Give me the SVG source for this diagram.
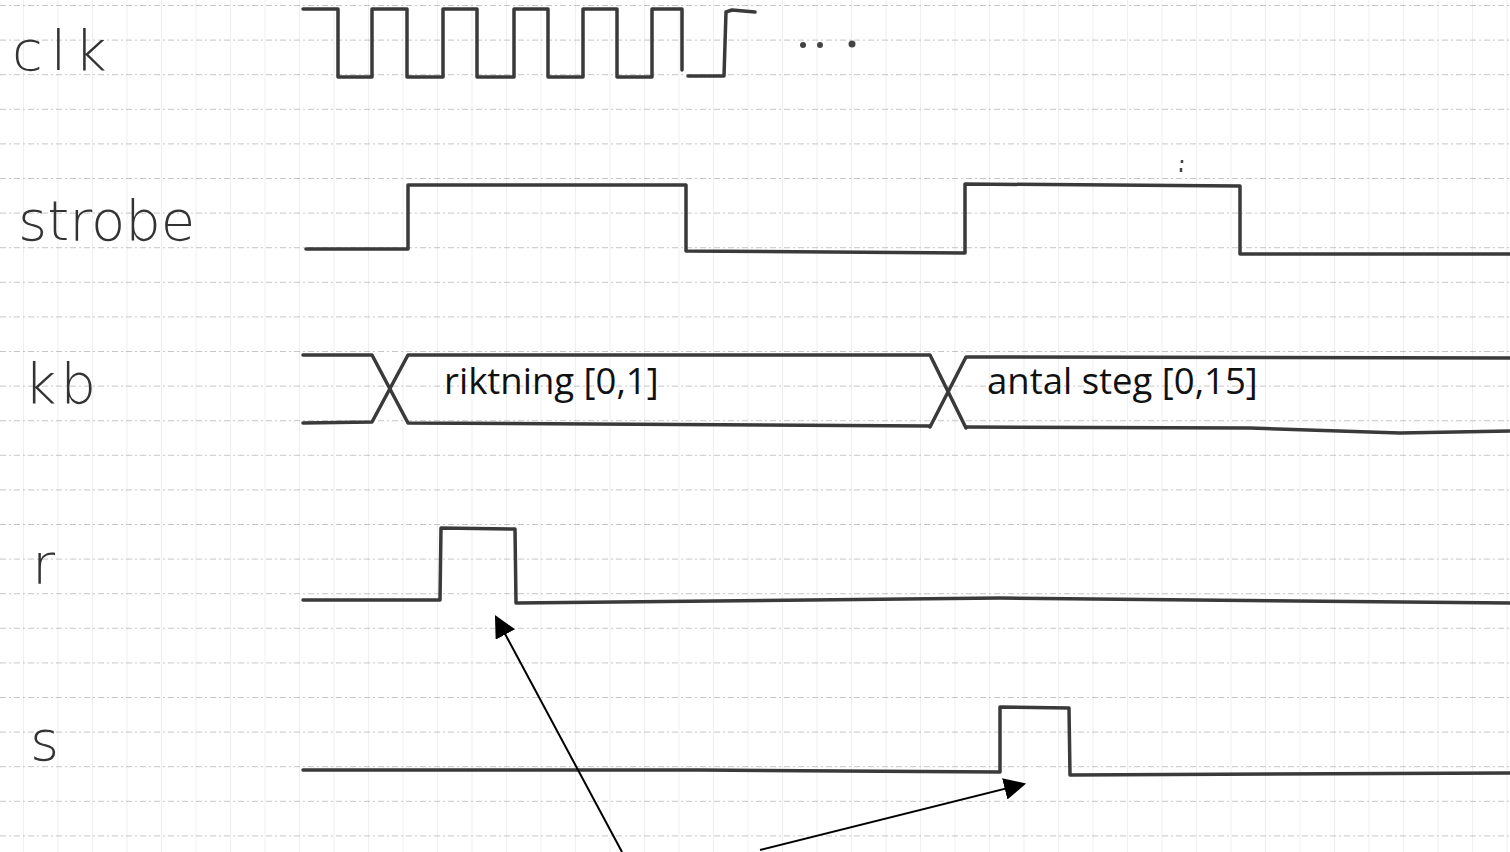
<svg xmlns="http://www.w3.org/2000/svg" width="1510" height="852" viewBox="0 0 1510 852">
<style>
.grid-h{stroke:#a0a0a0;stroke-width:1;stroke-dasharray:6 3 2 3;opacity:0.6}
.grid-v{stroke:#e0e0e0;stroke-width:1;opacity:0.5}
.wave{fill:none;stroke:#3a3a3a;stroke-width:3.5;stroke-linejoin:round;stroke-linecap:round}
.lbl{font-family:"DejaVu Sans","Liberation Sans",sans-serif;font-weight:200;font-size:56px;fill:#333}
.val{font-family:"Open Sans","Noto Sans",sans-serif;font-size:36.5px;fill:#111}
.arr{stroke:#000;stroke-width:2;fill:none}
</style>
<defs>
<pattern id="gv" width="34.5" height="852" patternUnits="userSpaceOnUse" x="23">
<line x1="0.5" y1="0" x2="0.5" y2="852" class="grid-v"/>
</pattern>
<pattern id="gh" width="1510" height="34.6" patternUnits="userSpaceOnUse" y="5">
<line x1="0" y1="0.5" x2="1510" y2="0.5" class="grid-h"/>
</pattern>
<marker id="ah2" viewBox="0 0 10 10" refX="9" refY="5" markerWidth="11" markerHeight="11" orient="auto" markerUnits="strokeWidth">
<path d="M0,0 L10,5 L0,10 z" fill="#000"/>
</marker>
</defs>
<rect width="1510" height="852" fill="#fff"/>
<g id="paper">
<rect width="1510" height="852" fill="url(#gv)"/>
<rect width="1510" height="852" fill="url(#gh)"/>
</g>
<g id="clk">
<text class="lbl" x="12" y="70" letter-spacing="8">clk</text>
<polyline class="wave" points="303,9 338,9 338,77 372,77 372,9 407,9 407,77 443,77 443,9 477,9 477,77 514,77 514,9 548,9 548,77 583,77 583,9 617,9 617,77 652,77 652,9 682,9 682,70"/>
<polyline class="wave" points="688,76 724,76 726,12 732,10 755,12"/>
<circle cx="803" cy="45" r="3" fill="#444"/>
<circle cx="820" cy="45" r="3" fill="#444"/>
<circle cx="852" cy="44" r="3.5" fill="#444"/>
</g>
<g id="strobe">
<text class="lbl" x="18" y="240">strobe</text>
<polyline class="wave" points="306,249 408,249 408,185 686,185 686,251 965,253 965,184 1240,186 1240,254 1510,254"/>
<line x1="1182" y1="160" x2="1182" y2="163" stroke="#444" stroke-width="2.5"/>
<line x1="1181" y1="168" x2="1181" y2="172" stroke="#444" stroke-width="2.5"/>
</g>
<g id="kb">
<text class="lbl" x="24" y="403" letter-spacing="4">kb</text>
<polyline class="wave" points="303,355 372,355 408,423 930,426"/>
<polyline class="wave" points="303,423 372,422 408,355 930,355 966,428"/>
<polyline class="wave" points="930,427 966,357 1510,358"/>
<polyline class="wave" points="966,427 1250,428 1400,433 1510,431"/>
<text class="val" x="444" y="394">riktning [0,1]</text>
<text class="val" x="987" y="394">antal steg [0,15]</text>
</g>
<g id="r">
<text class="lbl" x="32" y="583">r</text>
<polyline class="wave" points="303,600 440,600 441,528 515,529 516,603 1000,598 1510,603"/>
</g>
<g id="s">
<text class="lbl" x="30" y="760">s</text>
<polyline class="wave" points="303,770 700,770 1000,772 1000,707 1069,708 1070,775 1510,773"/>
</g>
<g id="connectors">
<line class="arr" x1="622" y1="852" x2="496" y2="617" marker-end="url(#ah2)"/>
<line class="arr" x1="760" y1="850" x2="1024" y2="784" marker-end="url(#ah2)"/>
</g>
</svg>
